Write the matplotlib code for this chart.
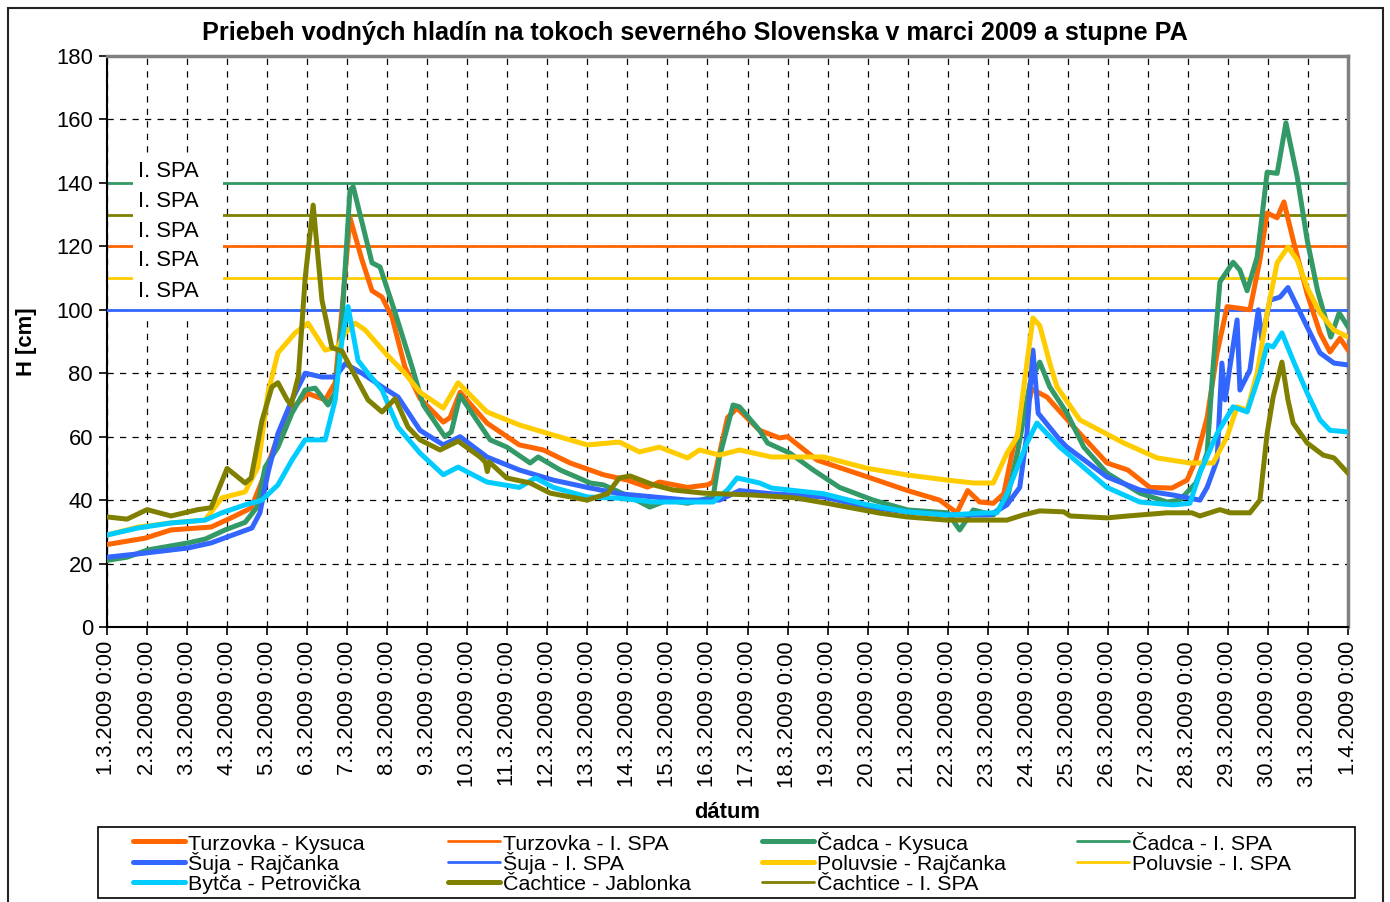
import matplotlib
matplotlib.use("Agg")
import matplotlib.pyplot as plt
from matplotlib.patches import Rectangle
from matplotlib.lines import Line2D

plt.rcParams['font.family'] = ['Liberation Sans', 'DejaVu Sans']

# ---- data (x = days since 1.3.2009 0:00) ----
turzovka_x = [0, 0.95, 1.6, 2.6, 3.1, 3.6, 3.87, 4.27, 4.62, 5.02, 5.45, 5.7, 5.87, 6.07, 6.37, 6.62, 6.87, 7.12, 7.44,
              7.82, 8.4, 8.57, 8.82, 9.49, 10.3, 10.9, 11.57, 12.4, 13.0, 13.5, 13.8, 14.5, 15.0, 15.14, 15.5, 15.74,
              16.3, 16.8, 17.0, 17.74, 19.0, 20.0, 20.8, 21.23, 21.5, 21.8, 22.14, 22.4, 22.64, 23.06, 23.1, 23.48,
              23.8, 24.3, 24.98, 25.5, 26.05, 26.6, 26.98, 27.2, 27.48, 27.73, 27.98, 28.55, 28.8, 28.98, 29.23, 29.4,
              29.63, 29.98, 30.3, 30.55, 30.8, 31]
turzovka_y = [26, 28, 30.6, 31.5, 34.4, 37.5, 46, 60, 69, 73.6, 71.6, 77, 100, 129, 115.7, 106, 104, 97.7, 82,
              72, 64.6, 66, 74, 64.3, 57.4, 55.8, 51.7, 48, 46.3, 44.1, 45.7, 44, 44.8, 45.7, 66, 69,
              62, 59.6, 60, 52.6, 47.3, 43, 40, 36, 43, 39.4, 39, 42, 56.7, 72.5, 75, 72.5,
              68, 61, 51.7, 49.5, 44, 43.8, 46.3, 52.6, 66, 86.4, 101, 100, 115.7, 130.5, 129, 134,
              122, 105, 92.7, 86.7, 91, 87.3]

cadca_x = [0, 0.5, 1.02, 2.02, 2.45, 2.95, 3.45, 3.75, 3.95, 4.27, 4.62, 4.95, 5.2, 5.52, 5.7, 5.87, 6.07, 6.15, 6.62,
           6.82, 7.2, 7.62, 7.9, 8.44, 8.6, 8.82, 9.57, 9.99, 10.57, 10.77, 11.32, 12.07, 12.4, 13.07, 13.56, 14.0,
           14.5, 15.14, 15.3, 15.64, 15.8, 16.3, 16.5, 17.06, 17.64, 18.3, 19.14, 20.0, 21.0, 21.3, 21.64, 22.14,
           22.48, 22.74, 23.06, 23.3, 23.55, 23.98, 24.4, 24.98, 25.8, 26.48, 26.8, 27.2, 27.48, 27.63, 27.8, 28.13,
           28.3, 28.48, 28.73, 28.9, 28.98, 29.23, 29.45, 29.73, 29.98, 30.24, 30.57, 30.78, 31]
cadca_y = [21, 22, 24.3, 26.5, 27.7, 30.6, 33, 37.8, 50.4, 56.7, 67.4, 74.7, 75.3, 70, 73.8, 96.8, 137.8, 138.8, 114.8,
           113.5, 99, 82, 70, 60, 61.5, 73, 59, 56.7, 51.7, 53.6, 49.5, 45.4, 44.8, 41, 37.8, 40,
           39, 41, 53.6, 70, 69.4, 62, 58, 54.8, 49.5, 44, 40, 36.9, 36, 30.6, 36.9, 35.3,
           40, 54.8, 77, 83.5, 75.7, 67.4, 56.7, 48.5, 42.2, 39.4, 40, 45.4, 54.8, 82, 108.8, 115,
           112.5, 106, 116.6, 134.6, 143.4, 143, 158.9, 142, 122, 106, 91.4, 99, 94.6]

suja_x = [0, 0.95, 2.02, 2.6, 3.27, 3.62, 3.82, 4.02, 4.27, 4.62, 4.95, 5.37, 5.7, 5.95, 6.37, 6.87, 7.27, 7.82, 8.4,
          8.82, 9.49, 10.3, 11.15, 12.0, 12.8, 13.65, 14.5, 15.3, 15.8, 16.6, 17.9, 19.0, 20.0, 21.0, 22.06, 22.48,
          22.8, 22.98, 23.13, 23.26, 23.8, 23.98, 24.98, 25.8, 26.63, 27.3, 27.48, 27.73, 27.85, 27.93, 28.05,
          28.23, 28.3, 28.55, 28.76, 28.85, 29.05, 29.3, 29.5, 29.98, 30.3, 30.65, 31]
suja_y = [22, 23.3, 24.9, 26.5, 29.6, 31.2, 36, 48.5, 61, 71.6, 80, 78.8, 78.8, 83, 80, 75.7, 72.5, 62, 57.4,
          60, 53.6, 49.5, 46.3, 44, 42, 41, 40, 40, 43, 42, 41, 37.8, 36.3, 35.3, 35.3, 38.5,
          44, 61, 87.3, 67.4, 59, 56.7, 47.3, 43.2, 41.6, 40, 44, 52.6, 83.2, 71.6, 82,
          96.8, 74.7, 81, 100, 90.5, 103, 104, 107, 94.6, 86.4, 83.2, 82.6]

poluvsie_x = [0, 0.77, 1.6, 2.45, 2.87, 3.45, 3.77, 4.02, 4.27, 4.7, 5.02, 5.45, 5.77, 5.95, 6.2, 6.45, 6.95, 7.44,
              7.82, 8.4, 8.77, 9.49, 10.3, 11.15, 12.0, 12.8, 13.3, 13.8, 14.5, 14.8, 15.3, 15.8, 16.6, 17.9, 19.0,
              20.0, 21.0, 21.64, 22.14, 22.48, 22.74, 22.98, 23.13, 23.3, 23.55, 23.73, 24.3, 25.4, 26.23, 27.05,
              27.63, 27.98, 28.23, 28.48, 28.73, 28.98, 29.23, 29.5, 29.73, 29.98, 30.3, 30.65, 31]
poluvsie_y = [29, 31.5, 32.8, 33.7, 40.7, 42.6, 50.4, 73.8, 86.4, 92.7, 95.8, 87.3, 88.3, 92.7, 95.8, 93.6, 86.4, 80,
              74, 69, 77, 67.8, 63.7, 60.5, 57.4, 58.3, 55.2, 56.7, 53.3, 55.8, 54.2, 55.8, 53.6, 53.6, 50,
              47.9, 46.3, 45.4, 45.4, 54.8, 60, 83.2, 97.4, 95, 83.2, 75.7, 65.3, 58, 53.3, 51.7,
              51.7, 60, 69.4, 68.4, 80, 99, 114.8, 119.8, 115.7, 107, 99, 93.6, 91.4]

bytca_x = [0, 0.77, 1.6, 2.45, 2.87, 3.45, 3.87, 4.27, 4.62, 4.95, 5.45, 5.7, 5.87, 6.02, 6.27, 6.52, 6.87, 7.27,
           7.82, 8.4, 8.77, 9.49, 10.3, 10.7, 11.15, 12.0, 12.8, 13.65, 14.5, 15.14, 15.5, 15.74, 16.3, 16.6, 17.9,
           19.0, 20.0, 21.0, 22.0, 22.23, 22.48, 22.74, 22.98, 23.23, 23.8, 23.98, 24.98, 25.8, 26.63, 27.05,
           27.3, 27.73, 28.13, 28.48, 28.8, 28.98, 29.13, 29.35, 29.63, 29.98, 30.3, 30.55, 31]
bytca_y = [29, 31.2, 32.8, 33.7, 36, 38.5, 40, 44.8, 52.6, 59, 59, 71.6, 90.5, 101, 84, 80, 74.7, 63,
           54.8, 48, 50.4, 45.7, 44, 47, 44, 41, 40.6, 39.4, 39.4, 39.4, 43.2, 47, 45.4, 43.8, 42,
           38.5, 36.3, 35.3, 36, 36, 42, 50.4, 58, 64.3, 56.7, 54.8, 44, 39.4, 38.5, 39,
           48.5, 61, 69.4, 67.8, 80, 88.9, 88.3, 92.7, 84, 73.8, 65.3, 62, 61.5]

cachtice_x = [0, 0.5, 1.0, 1.6, 2.27, 2.6, 3.0, 3.45, 3.6, 3.87, 4.12, 4.27, 4.5, 4.6, 4.78, 4.95, 5.15, 5.37, 5.62,
              5.87, 6.12, 6.52, 6.87, 7.2, 7.52, 7.82, 8.32, 8.77, 9.32, 9.45, 9.5, 9.55, 9.98, 10.57, 11.07, 11.99,
              12.5, 12.8, 13.07, 13.65, 14.14, 14.9, 16.14, 17.2, 17.98, 19.3, 19.98, 20.98, 22.48, 22.88, 23.3,
              23.9, 24.06, 24.98, 25.5, 26.48, 27.1, 27.3, 27.8, 28.05, 28.55, 28.8, 28.98, 29.13, 29.35, 29.5,
              29.63, 29.98, 30.38, 30.65, 31]
cachtice_y = [34.7, 34, 37, 35, 37, 37.6, 50, 45.4, 47, 65, 75.7, 77, 71.6, 70, 79, 110, 133, 103, 88,
              87, 81, 71.6, 67.8, 72, 63, 59, 55.8, 58.6, 53.6, 52, 49, 52, 47, 45.4, 42.2, 40,
              42, 47, 47.6, 44.8, 43.2, 42.2, 41.6, 40.7, 39, 35.9, 34.7, 33.7, 33.7, 35.3, 36.6,
              36.3, 35, 34.4, 35, 36, 36, 35, 37, 36, 36, 40, 61, 72.5, 83.5, 71.6,
              64.3, 58, 54.2, 53.3, 48.5]

# first flood-activity level (I. SPA) for each station, cm
spa_turzovka = 120
spa_cadca = 140
spa_suja = 100
spa_poluvsie = 110
spa_cachtice = 130

spa_label_text = ['I. SPA', 'I. SPA', 'I. SPA', 'I. SPA', 'I. SPA']
spa_label_y = [143.6, 134.2, 124.7, 115.5, 105.8]

x_tick_labels = ["1.3.2009 0:00", "2.3.2009 0:00", "3.3.2009 0:00", "4.3.2009 0:00", "5.3.2009 0:00",
                 "6.3.2009 0:00", "7.3.2009 0:00", "8.3.2009 0:00", "9.3.2009 0:00", "10.3.2009 0:00",
                 "11.3.2009 0:00", "12.3.2009 0:00", "13.3.2009 0:00", "14.3.2009 0:00", "15.3.2009 0:00",
                 "16.3.2009 0:00", "17.3.2009 0:00", "18.3.2009 0:00", "19.3.2009 0:00", "20.3.2009 0:00",
                 "21.3.2009 0:00", "22.3.2009 0:00", "23.3.2009 0:00", "24.3.2009 0:00", "25.3.2009 0:00",
                 "26.3.2009 0:00", "27.3.2009 0:00", "28.3.2009 0:00", "29.3.2009 0:00", "30.3.2009 0:00",
                 "31.3.2009 0:00", "1.4.2009 0:00"]
y_ticks = [0, 20, 40, 60, 80, 100, 120, 140, 160, 180]

C_OR = '#FF6600'
C_GR = '#339966'
C_BL = '#3366FF'
C_YE = '#FFCC00'
C_CY = '#00CCFF'
C_OL = '#808000'

FS = 15.8
W, H = 1390, 902
fig = plt.figure(figsize=(W / 100, H / 100), dpi=100)
fig.patch.set_facecolor('white')


def fx(px):
    return px / W


def fy(py):
    return (H - py) / H


# outer chart border
fig.add_artist(Rectangle((fx(8), -0.02), fx(1383 - 8), (H - 8) / H + 0.02, transform=fig.transFigure,
                         fill=False, edgecolor='#222222', linewidth=1.5))

ax = fig.add_axes([fx(107), fy(627), fx(1348 - 107), (627 - 56) / H])
ax.set_xlim(0, 31)
ax.set_ylim(0, 180)
ax.set_axisbelow(True)

ax.set_xticks(range(len(x_tick_labels)))
ax.set_xticklabels(x_tick_labels, rotation=90, fontsize=FS)
ax.set_yticks(y_ticks)
ax.set_yticklabels([str(v) for v in y_ticks], fontsize=FS)
ax.tick_params(axis='both', direction='out', length=6, width=1.2, color='black', pad=4)

ax.grid(True, color='black', linestyle=(0, (5, 5)), linewidth=0.9)

for s in ['top', 'right']:
    ax.spines[s].set_color('#808080')
    ax.spines[s].set_linewidth(2.5)
for s in ['left', 'bottom']:
    ax.spines[s].set_color('black')
    ax.spines[s].set_linewidth(1.5)

spa_lw = 2.0
ser_lw = 3.6
ax.axhline(spa_cadca, color=C_GR, lw=spa_lw, zorder=2)
ax.axhline(spa_cachtice, color=C_OL, lw=spa_lw, zorder=2)
ax.axhline(spa_turzovka, color=C_OR, lw=spa_lw, zorder=2)
ax.axhline(spa_poluvsie, color=C_YE, lw=spa_lw, zorder=2)

# white box behind the "I. SPA" labels
ax.add_patch(Rectangle((0.65, 98.5), 2.25, 49.5, facecolor='white', edgecolor='none', zorder=2.5))
ax.axhline(spa_suja, color=C_BL, lw=spa_lw, zorder=2.7)

for t, yv in zip(spa_label_text, spa_label_y):
    ax.text(0.77, yv, t, fontsize=FS, va='center', ha='left', zorder=4)

ax.plot(turzovka_x, turzovka_y, color=C_OR, lw=ser_lw, zorder=3.0, solid_joinstyle='round')
ax.plot(cadca_x, cadca_y, color=C_GR, lw=ser_lw, zorder=3.1, solid_joinstyle='round')
ax.plot(suja_x, suja_y, color=C_BL, lw=ser_lw, zorder=3.2, solid_joinstyle='round')
ax.plot(poluvsie_x, poluvsie_y, color=C_YE, lw=ser_lw, zorder=3.3, solid_joinstyle='round')
ax.plot(bytca_x, bytca_y, color=C_CY, lw=ser_lw, zorder=3.4, solid_joinstyle='round')
ax.plot(cachtice_x, cachtice_y, color=C_OL, lw=ser_lw, zorder=3.5, solid_joinstyle='round')

ax.set_ylabel('H [cm]', fontsize=FS, fontweight='bold', labelpad=14)
fig.text(fx(727.5), fy(812), 'dátum', fontsize=FS, fontweight='bold', ha='center', va='center')
fig.text(0.5, fy(33), 'Priebeh vodných hladín na tokoch severného Slovenska v marci 2009 a stupne PA',
         ha='center', va='center', fontsize=18.2, fontweight='bold')

# ---- legend, laid out row by row like the original ----
leg_labels = ['Turzovka - Kysuca', 'Turzovka - I. SPA', 'Čadca - Kysuca', 'Čadca - I. SPA',
              'Šuja - Rajčanka', 'Šuja - I. SPA', 'Poluvsie - Rajčanka', 'Poluvsie - I. SPA',
              'Bytča - Petrovička', 'Čachtice - Jablonka', 'Čachtice - I. SPA']
leg_colors = [C_OR, C_OR, C_GR, C_GR, C_BL, C_BL, C_YE, C_YE, C_CY, C_OL, C_OL]
leg_widths = [ser_lw, spa_lw, ser_lw, spa_lw, ser_lw, spa_lw, ser_lw, spa_lw, ser_lw, ser_lw, spa_lw]

fig.add_artist(Rectangle((fx(98), fy(898)), fx(1355 - 98), (898 - 827) / H, transform=fig.transFigure,
                         facecolor='white', edgecolor='black', linewidth=1.2))
col_x = [133, 448, 762, 1077]
row_y = [841, 862, 882]
for i, (lab, c, lw) in enumerate(zip(leg_labels, leg_colors, leg_widths)):
    r, k = divmod(i, 4)
    x0 = col_x[k]
    y0 = row_y[r]
    fig.add_artist(Line2D([fx(x0), fx(x0 + 52)], [fy(y0), fy(y0)], transform=fig.transFigure,
                          color=c, lw=lw, solid_capstyle='round'))
    fig.text(fx(x0 + 55), fy(y0 + 8.5), lab, fontsize=15.4, ha='left', va='baseline')

fig.savefig('out.png', dpi=100, facecolor='white')
